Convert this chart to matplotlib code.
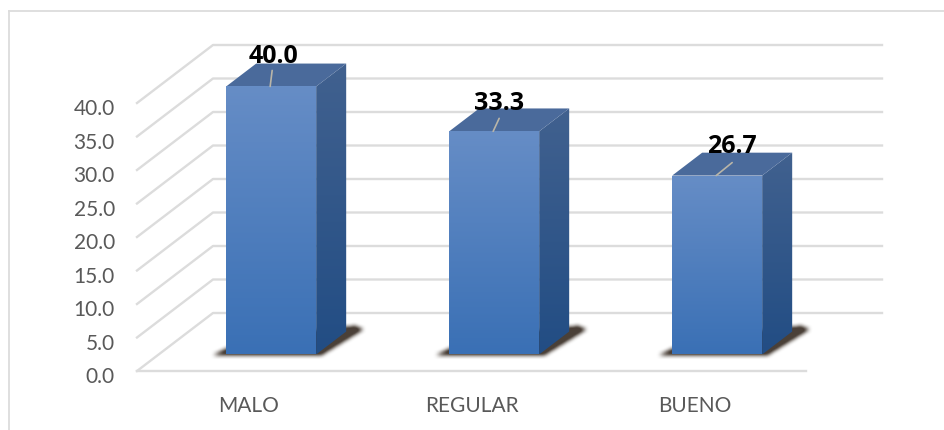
import numpy as np
import matplotlib
matplotlib.use("Agg")
import matplotlib.pyplot as plt
from matplotlib.colors import LinearSegmentedColormap
from matplotlib.lines import Line2D
from matplotlib.patches import Polygon
from matplotlib.path import Path
from matplotlib.transforms import ScaledTranslation

categories = ["MALO", "REGULAR", "BUENO"]
values = [40.0, 33.3, 26.7]
value_labels = ["40.0", "33.3", "26.7"]
y_ticks = [0, 5, 10, 15, 20, 25, 30, 35, 40]
y_tick_labels = ["0.0", "5.0", "10.0", "15.0", "20.0", "25.0", "30.0", "35.0", "40.0"]

plt.rcParams["font.family"] = ["Lato", "DejaVu Sans"]

W, H = 945, 431
PX_X = 223.0
PX_Y = 6.7
fig = plt.figure(figsize=(W / 100, H / 100), dpi=100)
ax = fig.add_axes([137 / W, (H - 372) / H, 669 / W, 268 / H])
ax.set_xlim(-0.5, 2.5)
ax.set_ylim(0, 40)

# depth of the 3d box, in data units
DX = 76 / PX_X
DY = 58 / PX_Y
BAR_W = 90 / PX_X
BAR_SHIFT = 1 / PX_X
D_FRONT = 0.285
D_BACK = 0.68


def pt(x, v, d=0.0):
    return (x + d * DX, v + d * DY)


def gradient_poly(points, top, bottom, zorder):
    xs = [p[0] for p in points]
    ys = [p[1] for p in points]
    cmap = LinearSegmentedColormap.from_list("g", [bottom, top])
    poly = Polygon(points, closed=True, fc="none", ec="none", clip_on=False, zorder=zorder)
    ax.add_patch(poly)
    im = ax.imshow(
        np.linspace(1, 0, 128).reshape(-1, 1),
        extent=(min(xs), max(xs), min(ys), max(ys)),
        cmap=cmap,
        vmin=0,
        vmax=1,
        aspect="auto",
        zorder=zorder,
        interpolation="bilinear",
    )
    im.set_clip_box(fig.bbox)
    im.set_clip_path(poly)


def blurred_shadow(points, zorder):
    # rasterize at 1 px per cell, box blur twice
    xs = [p[0] for p in points]
    ys = [p[1] for p in points]
    pad_x, pad_y = 10 / PX_X, 10 / PX_Y
    xg = np.arange(min(xs) - pad_x, max(xs) + pad_x, 1 / PX_X)
    yg = np.arange(min(ys) - pad_y, max(ys) + pad_y, 1 / PX_Y)
    xx, yy = np.meshgrid(xg, yg)
    mask = Path(points).contains_points(np.c_[xx.ravel(), yy.ravel()]).reshape(xx.shape).astype(float)
    kernel = np.ones(5) / 5
    for _ in range(2):
        mask = np.apply_along_axis(lambda r: np.convolve(r, kernel, mode="same"), 0, mask)
        mask = np.apply_along_axis(lambda r: np.convolve(r, kernel, mode="same"), 1, mask)
    rgba = np.zeros(mask.shape + (4,))
    rgba[..., :3] = matplotlib.colors.to_rgb("#4a4038")
    rgba[..., 3] = np.clip(mask * 1.3, 0, 1)
    im = ax.imshow(
        rgba,
        extent=(xg[0], xg[-1], yg[0], yg[-1]),
        origin="lower",
        aspect="auto",
        zorder=zorder,
        interpolation="bilinear",
    )
    im.set_clip_on(False)


# walls and floor gridlines
grid = "#dcdcdc"
for t in y_ticks:
    ax.plot(
        [pt(-0.5, t)[0], pt(-0.5, t, 1)[0], pt(2.5, t, 1)[0]],
        [pt(-0.5, t)[1], pt(-0.5, t, 1)[1], pt(2.5, t, 1)[1]],
        color=grid, lw=1.7, clip_on=False, zorder=1,
    )
ax.plot([-0.5, 2.5], [0, 0], color=grid, lw=1.7, clip_on=False, zorder=1)

# bars
for i, (cat, val) in enumerate(zip(categories, values)):
    x0 = i - BAR_W / 2 + BAR_SHIFT
    x1 = i + BAR_W / 2 + BAR_SHIFT

    blurred_shadow(
        [
            pt(x0 - 0.07, -0.25, D_FRONT),
            pt(x1 + 0.015, -0.25, D_FRONT),
            pt(x1 + 0.06, 0, D_BACK + 0.04),
            pt(x1, 0, D_BACK + 0.1),
            pt(x0, 0, D_FRONT + 0.25),
        ],
        2,
    )

    # side
    gradient_poly(
        [pt(x1, 0, D_FRONT), pt(x1, 0, D_BACK), pt(x1, val, D_BACK), pt(x1, val, D_FRONT)],
        "#41618f", "#224d84", 3,
    )
    # top
    ax.add_patch(Polygon(
        [pt(x0, val, D_FRONT), pt(x1, val, D_FRONT), pt(x1, val, D_BACK), pt(x0, val, D_BACK)],
        closed=True, fc="#4a6a9b", ec="none", clip_on=False, zorder=3,
    ))
    # front
    gradient_poly(
        [pt(x0, 0, D_FRONT), pt(x1, 0, D_FRONT), pt(x1, val, D_FRONT), pt(x0, val, D_FRONT)],
        "#668dc6", "#3a70b5", 4,
    )

# value labels with leader lines
label_offsets = [(3, 31), (6, 29), (16, 30)]
leader_offsets = [(2, 16), (6, 13), (16, 13)]
for i, val in enumerate(values):
    base = pt(i, val, D_FRONT)
    ox, oy = leader_offsets[i]
    ax.annotate(
        "", xy=base, xytext=(ox * 0.72, oy * 0.72), textcoords="offset points",
        arrowprops=dict(arrowstyle="-", color="#b9b5a8", lw=1.2, shrinkA=0, shrinkB=0),
        annotation_clip=False, zorder=6,
    )
    lx, ly = label_offsets[i]
    ax.annotate(
        value_labels[i], xy=base, xytext=(lx * 0.72, ly * 0.72), textcoords="offset points",
        ha="center", va="center", fontsize=18, fontweight="bold", color="black",
        family=["Open Sans", "DejaVu Sans"],
        annotation_clip=False, zorder=7,
    )

# axes
ax.set_yticks(y_ticks)
ax.set_yticklabels(y_tick_labels, fontsize=15, color="#595959")
ax.set_xticks(range(len(categories)))
ax.set_xticklabels(categories, fontsize=15, color="#595959")
ax.tick_params(axis="y", length=0, pad=16)
ax.tick_params(axis="x", length=0, pad=17)
shift = ScaledTranslation(0, -2.5 / 72, fig.dpi_scale_trans)
for lab in ax.get_yticklabels():
    lab.set_transform(lab.get_transform() + shift)
for s in ax.spines.values():
    s.set_visible(False)
ax.patch.set_alpha(0)
ax.set_xlim(-0.5, 2.5)
ax.set_ylim(0, 40)

# outer frame, cut by the crop at right and bottom
fig.add_artist(Line2D([9 / W, 1], [1 - 12 / H] * 2, color="#dcdcdc", lw=1.3))
fig.add_artist(Line2D([9 / W, 9 / W], [0, 1 - 12 / H], color="#dcdcdc", lw=1.3))

fig.savefig("out.png", dpi=100, facecolor="white")
plt.close(fig)
